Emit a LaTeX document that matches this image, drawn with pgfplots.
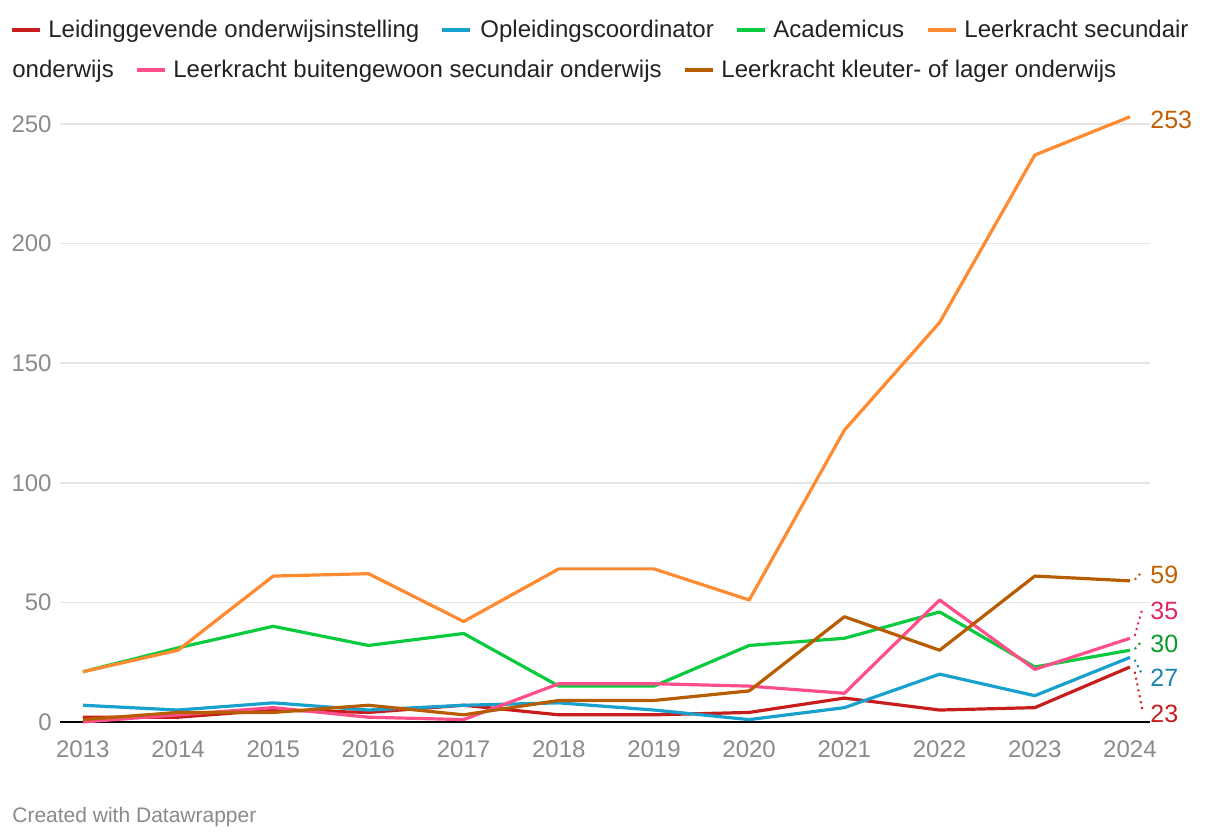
\documentclass[border=0pt]{standalone}
\usepackage{fontspec}
\setmainfont{Liberation Sans}
\usepackage{pgfplots}
\pgfplotsset{compat=1.18}
\definecolor{cred}{HTML}{C71E1D}
\definecolor{cblue}{HTML}{18A1CD}
\definecolor{cgreen}{HTML}{09CB3D}
\definecolor{corange}{HTML}{FF8A30}
\definecolor{cpink}{HTML}{FF4F8B}
\definecolor{cbrown}{HTML}{B85C00}
\definecolor{lred}{HTML}{C71E1D}
\definecolor{lblue}{HTML}{1C84AE}
\definecolor{lgreen}{HTML}{0A9B29}
\definecolor{lorange}{HTML}{C25E00}
\definecolor{lpink}{HTML}{E0246A}
\definecolor{lbrown}{HTML}{C06000}
\definecolor{tickgray}{HTML}{8A8A8A}
\definecolor{gridgray}{HTML}{E5E5E5}
\definecolor{txt}{HTML}{222222}
\begin{document}
\begin{tikzpicture}
\useasboundingbox (0pt,0pt) rectangle (610pt,420pt);
\begin{axis}[
  at={(30pt,59pt)}, anchor=south west,
  scale only axis, width=545pt, height=311pt,
  xmin=2012.76, xmax=2024.21, ymin=0, ymax=260,
  clip=false,
  axis line style={draw=none},
  major tick length=0pt,
  xtick={2013,2014,...,2024},
  ytick={0,50,100,150,200,250},
  ymajorgrids, grid style={color=gridgray, line width=0.75pt},
  /pgf/number format/assume math mode=true,
  /pgf/number format/1000 sep={},
  ticklabel style={font=\fontsize{12}{14}\selectfont, text=tickgray, inner sep=0pt},
  yticklabel style={anchor=east, xshift=-4pt},
  xticklabel style={anchor=north, yshift=-9pt},
  every axis plot/.append style={line width=1.6pt, line join=round, no markers},
]
\draw[black, line width=1pt] (rel axis cs:0,0) -- (rel axis cs:1,0);
% Leidinggevende onderwijsinstelling
\addplot[cred] coordinates {(2013,2) (2014,2) (2015,5) (2016,4) (2017,7) (2018,3) (2019,3) (2020,4) (2021,10) (2022,5) (2023,6) (2024,23)};
% Opleidingscoordinator
\addplot[cblue] coordinates {(2013,7) (2014,5) (2015,8) (2016,5) (2017,7) (2018,8) (2019,5) (2020,1) (2021,6) (2022,20) (2023,11) (2024,27)};
% Academicus
\addplot[cgreen] coordinates {(2013,21) (2014,31) (2015,40) (2016,32) (2017,37) (2018,15) (2019,15) (2020,32) (2021,35) (2022,46) (2023,23) (2024,30)};
% Leerkracht secundair onderwijs
\addplot[corange] coordinates {(2013,21) (2014,30) (2015,61) (2016,62) (2017,42) (2018,64) (2019,64) (2020,51) (2021,122) (2022,167) (2023,237) (2024,253)};
% Leerkracht buitengewoon secundair onderwijs
\addplot[cpink] coordinates {(2013,0) (2014,3) (2015,6) (2016,2) (2017,1) (2018,16) (2019,16) (2020,15) (2021,12) (2022,51) (2023,22) (2024,35)};
% Leerkracht kleuter- of lager onderwijs
\addplot[cbrown] coordinates {(2013,1) (2014,4) (2015,4) (2016,7) (2017,3) (2018,9) (2019,9) (2020,13) (2021,44) (2022,30) (2023,61) (2024,59)};
% connectors
\draw[lbrown, dotted, line width=1pt] (axis cs:2024.05,59.5) -- (axis cs:2024.13,63);
\draw[lpink, dotted, line width=1pt] (axis cs:2024.05,36) -- (axis cs:2024.13,47.5);
\draw[lgreen, dotted, line width=1pt] (axis cs:2024.05,30.5) -- (axis cs:2024.13,34);
\draw[lblue, dotted, line width=1pt] (axis cs:2024.05,26) -- (axis cs:2024.13,19.5);
\draw[lred, dotted, line width=1pt] (axis cs:2024.05,21) -- (axis cs:2024.13,5);
\tikzset{vl/.style={anchor=west, inner sep=0pt, font=\fontsize{12.5}{14}\selectfont}}
\node[vl, text=lorange] at (axis cs:2024.21,251.5) {253};
\node[vl, text=lbrown] at (axis cs:2024.21,61.5) {59};
\node[vl, text=lpink] at (axis cs:2024.21,46.5) {35};
\node[vl, text=lgreen] at (axis cs:2024.21,32.5) {30};
\node[vl, text=lblue] at (axis cs:2024.21,18.5) {27};
\node[vl, text=lred] at (axis cs:2024.21,3.5) {23};
\end{axis}
% legend
\tikzset{lg/.style={anchor=base west, inner sep=0pt, text=txt, font=\fontsize{12}{14}\selectfont}}
\draw[cred, line width=2pt] (6pt,405pt) -- (20pt,405pt);
\node[lg] at (24pt,401pt) {Leidinggevende onderwijsinstelling};
\draw[cblue, line width=2pt] (221pt,405pt) -- (235pt,405pt);
\node[lg] at (240pt,401pt) {Opleidingscoordinator};
\draw[cgreen, line width=2pt] (368.5pt,405pt) -- (382.5pt,405pt);
\node[lg] at (386.5pt,401pt) {Academicus};
\draw[corange, line width=2pt] (464pt,405pt) -- (478pt,405pt);
\node[lg] at (482pt,401pt) {Leerkracht secundair};
\node[lg] at (6pt,381pt) {onderwijs};
\draw[cpink, line width=2pt] (68.5pt,385pt) -- (82.5pt,385pt);
\node[lg] at (86.5pt,381pt) {Leerkracht buitengewoon secundair onderwijs};
\draw[cbrown, line width=2pt] (342.5pt,385pt) -- (356.5pt,385pt);
\node[lg] at (360.5pt,381pt) {Leerkracht kleuter- of lager onderwijs};
\node[anchor=base west, inner sep=0pt, text=tickgray, font=\fontsize{10.5}{12}\selectfont] at (6pt,9pt) {Created with Datawrapper};
\end{tikzpicture}
\end{document}
